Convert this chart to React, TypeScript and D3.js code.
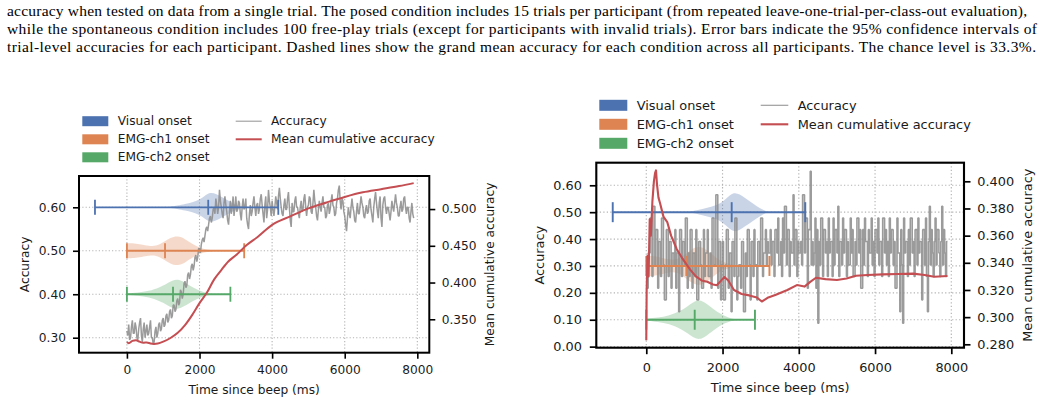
import React, { useEffect, useRef } from "react";
import * as d3 from "d3";

// caption lines above the figure (justified in the paper)
const captionLines = [
  "accuracy when tested on data from a single trial. The posed condition includes 15 trials per participant (from repeated leave-one-trial-per-class-out evaluation),",
  "while the spontaneous condition includes 100 free-play trials (except for participants with invalid trials). Error bars indicate the 95% confidence intervals of",
  "trial-level accuracies for each participant. Dashed lines show the grand mean accuracy for each condition across all participants. The chance level is 33.3%.",
];

// sampling grid of the accuracy traces (ms after beep)
const timeMs = d3.range(0, 7901, 25);

// posed condition, accuracy per time step (left panel)
const posedAccuracy = [
  0.315, 0.305, 0.33, 0.295, 0.3, 0.325, 0.34, 0.31, 0.31, 0.335, 0.325, 0.3, 0.295, 0.32, 0.335, 0.345,
  0.305, 0.29, 0.32, 0.335, 0.3, 0.315, 0.33, 0.305, 0.31, 0.325, 0.34, 0.3, 0.3, 0.285, 0.29, 0.315,
  0.325, 0.3, 0.31, 0.33, 0.335, 0.315, 0.32, 0.34, 0.345, 0.325, 0.33, 0.35, 0.355, 0.335, 0.34, 0.36,
  0.365, 0.345, 0.35, 0.375, 0.375, 0.36, 0.365, 0.385, 0.39, 0.375, 0.38, 0.41, 0.405, 0.39, 0.4, 0.425,
  0.43, 0.415, 0.42, 0.445, 0.45, 0.435, 0.445, 0.465, 0.47, 0.455, 0.465, 0.485, 0.49, 0.475, 0.485, 0.505,
  0.505, 0.495, 0.515, 0.525, 0.53, 0.52, 0.535, 0.55, 0.555, 0.545, 0.56, 0.575, 0.58, 0.565, 0.575, 0.595,
  0.6, 0.585, 0.62, 0.605, 0.585, 0.6, 0.64, 0.615, 0.6, 0.585, 0.575, 0.61, 0.625, 0.605, 0.59, 0.57,
  0.56, 0.59, 0.615, 0.585, 0.6, 0.625, 0.58, 0.6, 0.625, 0.59, 0.595, 0.615, 0.61, 0.585, 0.57, 0.6,
  0.62, 0.595, 0.6, 0.62, 0.575, 0.56, 0.55, 0.585, 0.605, 0.58, 0.59, 0.61, 0.625, 0.6, 0.58, 0.605,
  0.61, 0.585, 0.595, 0.62, 0.63, 0.605, 0.585, 0.565, 0.605, 0.625, 0.575, 0.595, 0.64, 0.615, 0.6, 0.58,
  0.615, 0.595, 0.58, 0.6, 0.625, 0.61, 0.595, 0.625, 0.645, 0.62, 0.6, 0.585, 0.58, 0.605, 0.62, 0.595,
  0.595, 0.62, 0.635, 0.6, 0.57, 0.555, 0.61, 0.59, 0.59, 0.615, 0.625, 0.6, 0.6, 0.585, 0.575, 0.6,
  0.615, 0.59, 0.595, 0.62, 0.63, 0.6, 0.58, 0.6, 0.605, 0.625, 0.62, 0.59, 0.585, 0.61, 0.64, 0.615,
  0.6, 0.58, 0.57, 0.595, 0.615, 0.6, 0.59, 0.61, 0.625, 0.6, 0.6, 0.575, 0.58, 0.605, 0.61, 0.585,
  0.595, 0.615, 0.63, 0.605, 0.6, 0.58, 0.585, 0.61, 0.62, 0.64, 0.65, 0.615, 0.595, 0.62, 0.615, 0.59,
  0.58, 0.56, 0.545, 0.575, 0.6, 0.585, 0.575, 0.6, 0.62, 0.6, 0.59, 0.57, 0.565, 0.59, 0.61, 0.585,
  0.585, 0.605, 0.625, 0.61, 0.6, 0.58, 0.575, 0.595, 0.605, 0.585, 0.59, 0.615, 0.62, 0.595, 0.58, 0.565,
  0.6, 0.62, 0.635, 0.61, 0.59, 0.575, 0.61, 0.625, 0.575, 0.555, 0.605, 0.62, 0.625, 0.6, 0.585, 0.6,
  0.6, 0.585, 0.57, 0.59, 0.615, 0.6, 0.59, 0.61, 0.63, 0.61, 0.6, 0.58, 0.58, 0.6, 0.615, 0.59,
  0.595, 0.62, 0.625, 0.6, 0.585, 0.6, 0.6, 0.575, 0.565, 0.59, 0.61, 0.585, 0.575,
];

// spontaneous condition, accuracy per time step (right panel)
const spontAccuracy = [
  0.217, 0.217, 0.348, 0.348, 0.478, 0.478, 0.261, 0.522, 0.522, 0.304, 0.435, 0.435, 0.217, 0.391, 0.391, 0.261,
  0.478, 0.478, 0.304, 0.174, 0.174, 0.435, 0.435, 0.261, 0.391, 0.391, 0.217, 0.348, 0.348, 0.304, 0.435, 0.217,
  0.348, 0.348, 0.13, 0.435, 0.435, 0.261, 0.391, 0.391, 0.304, 0.478, 0.478, 0.217, 0.348, 0.261, 0.435, 0.435,
  0.217, 0.348, 0.348, 0.261, 0.435, 0.174, 0.174, 0.391, 0.391, 0.304, 0.217, 0.217, 0.435, 0.261, 0.348, 0.348,
  0.435, 0.261, 0.261, 0.348, 0.217, 0.478, 0.478, 0.304, 0.304, 0.565, 0.565, 0.217, 0.391, 0.391, 0.174, 0.304,
  0.391, 0.174, 0.174, 0.304, 0.435, 0.435, 0.217, 0.348, 0.348, 0.13, 0.391, 0.391, 0.261, 0.478, 0.478, 0.174,
  0.261, 0.304, 0.304, 0.217, 0.391, 0.391, 0.13, 0.13, 0.348, 0.261, 0.435, 0.435, 0.304, 0.174, 0.391, 0.391,
  0.261, 0.435, 0.304, 0.304, 0.174, 0.391, 0.391, 0.304, 0.478, 0.478, 0.261, 0.348, 0.348, 0.435, 0.304, 0.391,
  0.348, 0.348, 0.435, 0.304, 0.391, 0.391, 0.261, 0.435, 0.435, 0.348, 0.478, 0.304, 0.304, 0.391, 0.261, 0.478,
  0.348, 0.522, 0.522, 0.304, 0.435, 0.435, 0.261, 0.391, 0.348, 0.348, 0.565, 0.304, 0.435, 0.435, 0.261, 0.391,
  0.348, 0.348, 0.391, 0.304, 0.565, 0.565, 0.348, 0.478, 0.478, 0.217, 0.435, 0.435, 0.652, 0.304, 0.391, 0.304,
  0.348, 0.478, 0.217, 0.435, 0.087, 0.391, 0.304, 0.478, 0.478, 0.261, 0.435, 0.435, 0.348, 0.391, 0.261, 0.478,
  0.348, 0.391, 0.391, 0.261, 0.478, 0.304, 0.435, 0.435, 0.348, 0.522, 0.261, 0.391, 0.391, 0.304, 0.478, 0.348,
  0.435, 0.435, 0.261, 0.391, 0.304, 0.304, 0.478, 0.348, 0.435, 0.261, 0.261, 0.391, 0.304, 0.478, 0.478, 0.348,
  0.435, 0.217, 0.217, 0.435, 0.304, 0.478, 0.391, 0.391, 0.261, 0.435, 0.348, 0.348, 0.478, 0.304, 0.391, 0.261,
  0.435, 0.435, 0.348, 0.478, 0.304, 0.391, 0.391, 0.261, 0.478, 0.478, 0.348, 0.435, 0.304, 0.391, 0.261, 0.478,
  0.348, 0.435, 0.435, 0.304, 0.391, 0.217, 0.217, 0.478, 0.348, 0.348, 0.13, 0.435, 0.304, 0.087, 0.478, 0.348,
  0.391, 0.391, 0.261, 0.435, 0.304, 0.478, 0.478, 0.348, 0.391, 0.261, 0.435, 0.435, 0.304, 0.478, 0.348, 0.391,
  0.391, 0.174, 0.435, 0.435, 0.304, 0.478, 0.261, 0.13, 0.391, 0.522, 0.304, 0.435, 0.348, 0.261, 0.391, 0.478,
  0.304, 0.435, 0.435, 0.348, 0.261, 0.391, 0.522, 0.304, 0.435, 0.348, 0.261, 0.391, 0.391,
];

// mean cumulative accuracy (right-hand axis)
const posedCumTime = [0, 50, 150, 250, 350, 450, 550, 650, 750, 850, 1000, 1200, 1400, 1600, 1800, 2000,
  2200, 2400, 2600, 2800, 3000, 3300, 3600, 4000, 4500, 5000, 5500, 6000, 6500, 7000, 7500, 7900];
const posedCumAcc = [0.319, 0.3175, 0.3205, 0.3215, 0.3195, 0.318, 0.3185, 0.317, 0.3165, 0.317, 0.3195, 0.3245,
  0.3315, 0.342, 0.356, 0.372, 0.386, 0.404, 0.417, 0.429, 0.437, 0.451, 0.462, 0.4785, 0.49, 0.501, 0.509, 0.5165,
  0.5228, 0.527, 0.5313, 0.5353];

const spontCumTime = [0, 10, 30, 60, 90, 120, 160, 200, 230, 255, 280, 320, 360, 450, 550, 650, 800, 950,
  1150, 1300, 1450, 1600, 1750, 1850, 1950, 2050, 2150, 2300, 2500, 2700, 2900, 3030, 3200, 3400, 3700, 3950,
  4150, 4300, 4450, 4700, 5000, 5250, 5500, 5800, 6200, 6600, 7000, 7300, 7550, 7900];
const spontCumAcc = [0.283, 0.32, 0.345, 0.33, 0.372, 0.36, 0.385, 0.4, 0.406, 0.408, 0.398, 0.388, 0.384,
  0.374, 0.37, 0.36, 0.35, 0.343, 0.335, 0.33, 0.327, 0.326, 0.324, 0.3235, 0.3265, 0.3295, 0.327, 0.32, 0.317,
  0.316, 0.3145, 0.3115, 0.3145, 0.3165, 0.32, 0.3236, 0.3225, 0.326, 0.329, 0.328, 0.3273, 0.3285, 0.3305,
  0.331, 0.3315, 0.3318, 0.332, 0.331, 0.3297, 0.3303];

// onset distributions
const onsetNames = ["Visual onset", "EMG-ch1 onset", "EMG-ch2 onset"];
const onsetColors = ["#4C72B0", "#DD8452", "#55A868"];
const onsetLow = [-880, 0, 0];
const onsetMean = [2240, 1050, 1270];
const onsetHigh = [4170, 3230, 2850];
const posedOnsetRow = [0.6, 0.5, 0.4];
const spontOnsetRow = [0.5, 0.3, 0.1];

// violin outlines (relative density along time)
const visualDensityT = [1100, 1400, 1600, 1800, 2000, 2150, 2300, 2450, 2600, 2750, 2900, 3050, 3200];
const visualDensity = [0, 0.12, 0.22, 0.32, 0.5, 0.78, 1.0, 0.9, 0.7, 0.5, 0.3, 0.12, 0];
const ch1DensityT = [0, 200, 400, 600, 800, 1000, 1200, 1400, 1600, 1800, 2000, 2200, 2450];
const ch1Density = [0.5, 0.5, 0.42, 0.32, 0.3, 0.55, 0.88, 1.0, 0.8, 0.45, 0.2, 0.08, 0];
const ch2DensityT = [0, 300, 600, 900, 1100, 1250, 1400, 1550, 1750, 1950, 2150, 2400];
const ch2Density = [0.05, 0.1, 0.2, 0.45, 0.7, 0.92, 1.0, 0.85, 0.55, 0.28, 0.1, 0];
const densityT = [visualDensityT, ch1DensityT, ch2DensityT];
const densityV = [visualDensity, ch1Density, ch2Density];

const xTicks = [0, 2000, 4000, 6000, 8000];
const posedYTicks = [0.3, 0.4, 0.5, 0.6];
const posedY2Ticks = [0.35, 0.4, 0.45, 0.5];
const spontYTicks = [0, 0.1, 0.2, 0.3, 0.4, 0.5, 0.6];
const spontY2Ticks = [0.28, 0.3, 0.32, 0.34, 0.36, 0.38, 0.4];

const FONT = "'DejaVu Sans', sans-serif";
const RED = "#C44E52";
const GREY = "#8a8a8a";

const panels = [
  {
    left: 79, right: 429.3, top: 176, bottom: 352.7, s: 1, fs: 12.2,
    xDomain: [-1320, 8330], yDomain: [0.2655, 0.672], y2Domain: [0.3045, 0.545],
    yTicks: posedYTicks, y2Ticks: posedY2Ticks, yFmt: ".2f",
    acc: posedAccuracy, step: false, greyW: 1.5, cumT: posedCumTime, cumA: posedCumAcc, rows: posedOnsetRow,
    violinHW: 0.0345, cap: 7.5, tick: 6, padX: 7, padY: 7, padY2: 6.4,
    xLabelY: 389.5, yLabelX: 25.3, y2LabelX: 490,
    legX: 82.3, legRows: [121.2, 139.3, 157.3], patchW: 26, patchH: 10, legTextX: 117.7,
    lineX: 235.7, lineW: 26, lineTextX: 271,
  },
  {
    left: 596.3, right: 964, top: 162.7, bottom: 347.7, s: 1.057, fs: 12.9,
    xDomain: [-1311, 8333], yDomain: [-0.004, 0.684], y2Domain: [0.2775, 0.4137],
    yTicks: spontYTicks, y2Ticks: spontY2Ticks, yFmt: ".2f",
    acc: spontAccuracy, step: true, greyW: 1.6, cumT: spontCumTime, cumA: spontCumAcc, rows: spontOnsetRow,
    violinHW: 0.074, cap: 10, tick: 6.5, padX: 8.3, padY: 7.8, padY2: 6.8,
    xLabelY: 387.5, yLabelX: 539, y2LabelX: 1027.5,
    legX: 599.3, legRows: [105.3, 124.3, 143.3], patchW: 28, patchH: 11, legTextX: 636.7,
    lineX: 760.7, lineW: 27.6, lineTextX: 797.7,
  },
];

function Panel({ cfg }: { cfg: any }) {
  const ref = useRef<SVGGElement>(null);

  useEffect(() => {
    const g = d3.select(ref.current);
    g.selectAll("*").remove();
    const { left, right, top, bottom, s, fs } = cfg;

    const x = d3.scaleLinear().domain(cfg.xDomain).range([left, right]);
    const y = d3.scaleLinear().domain(cfg.yDomain).range([bottom, top]);
    const y2 = d3.scaleLinear().domain(cfg.y2Domain).range([bottom, top]);

    // dotted grid
    const grid = g.append("g").attr("stroke", "#b4b4b4").attr("stroke-width", 1.1 * s)
      .attr("stroke-dasharray", `${1.2 * s},${2.1 * s}`);
    grid.selectAll(".gx").data(xTicks).join("line").attr("class", "gx")
      .attr("x1", (d) => x(d)).attr("x2", (d) => x(d)).attr("y1", top).attr("y2", bottom);
    grid.selectAll(".gy").data(cfg.yTicks).join("line").attr("class", "gy")
      .attr("x1", left).attr("x2", right).attr("y1", (d: any) => y(d)).attr("y2", (d: any) => y(d));

    // violins
    onsetNames.forEach((_, i) => {
      const row = cfg.rows[i];
      const pts = densityT[i].map((t, j) => [t, densityV[i][j]]);
      const area = d3.area<number[]>()
        .x((d) => x(d[0]))
        .y0((d) => y(row - d[1] * cfg.violinHW))
        .y1((d) => y(row + d[1] * cfg.violinHW))
        .curve(d3.curveBasis);
      g.append("path").attr("d", area(pts)).attr("fill", onsetColors[i]).attr("fill-opacity", 0.3);
    });

    // accuracy trace
    const accLine = d3.line<number>()
      .x((_, i) => x(timeMs[i]))
      .y((d) => y(d))
      .curve(cfg.step ? d3.curveStepAfter : d3.curveLinear);
    g.append("path").attr("d", accLine(cfg.acc)).attr("fill", "none")
      .attr("stroke", GREY).attr("stroke-opacity", 0.85).attr("stroke-width", cfg.greyW)
      .attr("stroke-linejoin", "bevel");

    // error bars with mean marker
    onsetNames.forEach((_, i) => {
      const yy = y(cfg.rows[i]);
      const eb = g.append("g").attr("stroke", onsetColors[i]).attr("stroke-width", 1.8 * s);
      eb.append("line").attr("x1", x(onsetLow[i])).attr("x2", x(onsetHigh[i])).attr("y1", yy).attr("y2", yy);
      [onsetLow[i], onsetMean[i], onsetHigh[i]].forEach((v) => {
        eb.append("line").attr("x1", x(v)).attr("x2", x(v)).attr("y1", yy - cfg.cap).attr("y2", yy + cfg.cap);
      });
    });

    // mean cumulative accuracy on the twin axis
    const cumLine = d3.line<number>()
      .x((_, i) => x(cfg.cumT[i]))
      .y((d) => y2(d))
      .curve(cfg.step ? d3.curveLinear : d3.curveMonotoneX);
    g.append("path").attr("d", cumLine(cfg.cumA)).attr("fill", "none")
      .attr("stroke", RED).attr("stroke-width", 2 * s).attr("stroke-linejoin", "round");

    // axes
    const styleAxis = (a: any) => {
      a.select(".domain").remove();
      a.attr("font-size", fs).attr("font-family", FONT);
      a.selectAll("line").attr("stroke", "#000").attr("stroke-width", 1.6 * s);
      a.selectAll("text").attr("fill", "#1a1a1a");
    };
    g.append("g").attr("transform", `translate(0,${bottom})`)
      .call(d3.axisBottom(x).tickValues(xTicks).tickSize(cfg.tick).tickPadding(cfg.padX).tickFormat(d3.format("d")) as any)
      .call(styleAxis);
    g.append("g").attr("transform", `translate(${left},0)`)
      .call(d3.axisLeft(y).tickValues(cfg.yTicks).tickSize(cfg.tick).tickPadding(cfg.padY).tickFormat(d3.format(cfg.yFmt)) as any)
      .call(styleAxis);
    g.append("g").attr("transform", `translate(${right},0)`)
      .call(d3.axisRight(y2).tickValues(cfg.y2Ticks).tickSize(cfg.tick).tickPadding(cfg.padY2).tickFormat(d3.format(".3f")) as any)
      .call(styleAxis);

    // frame
    g.append("rect").attr("x", left).attr("y", top).attr("width", right - left).attr("height", bottom - top)
      .attr("fill", "none").attr("stroke", "#000").attr("stroke-width", 2 * s);

    // axis labels
    const lab = g.append("g").attr("font-family", FONT).attr("font-size", fs).attr("fill", "#1a1a1a")
      .attr("text-anchor", "middle").attr("dominant-baseline", "central");
    lab.append("text").attr("x", (left + right) / 2).attr("y", cfg.xLabelY).text("Time since beep (ms)");
    lab.append("text").attr("transform", `translate(${cfg.yLabelX},${(top + bottom) / 2}) rotate(-90)`).text("Accuracy");
    lab.append("text").attr("transform", `translate(${cfg.y2LabelX},${(top + bottom) / 2}) rotate(-90)`)
      .text("Mean cumulative accuracy");

    // legend
    const leg = g.append("g").attr("font-family", FONT).attr("font-size", fs).attr("fill", "#1a1a1a");
    onsetNames.forEach((name, i) => {
      const cy = cfg.legRows[i];
      leg.append("rect").attr("x", cfg.legX).attr("y", cy - cfg.patchH / 2)
        .attr("width", cfg.patchW).attr("height", cfg.patchH).attr("fill", onsetColors[i]);
      leg.append("text").attr("x", cfg.legTextX).attr("y", cy).attr("dominant-baseline", "central").text(name);
    });
    const lineItems = [
      { name: "Accuracy", color: GREY, op: 0.85, w: 1.1 * s },
      { name: "Mean cumulative accuracy", color: RED, op: 1, w: 2 * s },
    ];
    lineItems.forEach((it, i) => {
      const cy = cfg.legRows[i];
      leg.append("line").attr("x1", cfg.lineX).attr("x2", cfg.lineX + cfg.lineW).attr("y1", cy).attr("y2", cy)
        .attr("stroke", it.color).attr("stroke-opacity", it.op).attr("stroke-width", it.w);
      leg.append("text").attr("x", cfg.lineTextX).attr("y", cy).attr("dominant-baseline", "central").text(it.name);
    });
  }, [cfg]);

  return <g ref={ref} />;
}

const captionBaselines = [15.5, 33.9, 52.3];
const captionWidths = [1020, 1030, 1029];

export default function App() {
  return (
    <svg width={1042} height={403} style={{ position: "absolute", left: 0, top: 0, background: "#fff" }}>
      <rect width={1042} height={403} fill="#fff" />
      {captionLines.map((t, i) => (
        <text key={i} x={7} y={captionBaselines[i]} fontFamily="'Liberation Serif', 'Times New Roman', serif"
          fontSize={15.5} fill="#000" textLength={captionWidths[i]} lengthAdjust="spacing">
          {t}
        </text>
      ))}
      {panels.map((p, i) => <Panel key={i} cfg={p} />)}
    </svg>
  );
}
